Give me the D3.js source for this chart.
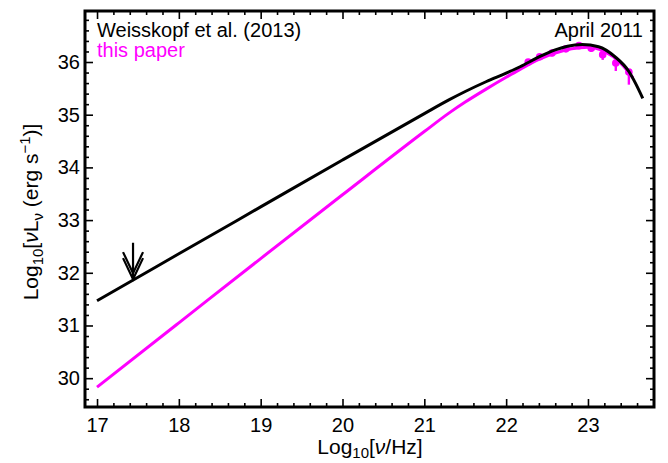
<!DOCTYPE html>
<html><head><meta charset="utf-8">
<script src="https://cdn.jsdelivr.net/npm/d3@7/dist/d3.min.js"></script>
<style>body{margin:0;background:#fff}svg{display:block}text{font-family:"Liberation Sans",Arial,sans-serif}</style>
</head><body>
<script>
// Weisskopf et al. (2013) model curve
const blackX = [17, 18, 19, 20, 21, 21.3, 21.5, 21.76, 22.0, 22.17, 22.42, 22.6, 22.75, 22.93, 23.13, 23.33, 23.5, 23.58, 23.67];
const blackY = [31.47, 32.36, 33.25, 34.14, 35.02, 35.28, 35.44, 35.63, 35.79, 35.91, 36.11, 36.23, 36.30, 36.33, 36.29, 36.10, 35.82, 35.60, 35.31];
// this paper model curve
const magX = [17, 18, 19, 20, 21, 21.3, 21.5, 21.76, 22.0, 22.17, 22.4, 22.6, 22.8, 23.0, 23.2, 23.4, 23.55];
const magY = [29.83, 31.05, 32.27, 33.48, 34.68, 35.03, 35.24, 35.49, 35.71, 35.86, 36.05, 36.17, 36.25, 36.28, 36.20, 35.98, 35.70];
// data points (this paper)
const ptX = [22.27, 22.41, 22.56, 22.73, 22.89, 23.04, 23.18, 23.34, 23.50];
const ptY = [36.00, 36.10, 36.17, 36.25, 36.31, 36.26, 36.14, 35.98, 35.81];
const ptErrLo = [0.06, 0.06, 0.06, 0.06, 0.06, 0.07, 0.10, 0.15, 0.24];
const ptErrHi = [0.04, 0.04, 0.04, 0.04, 0.04, 0.04, 0.04, 0.05, 0.05];
// upper limit arrow
const arrowX = 17.44, arrowTop = 32.57, arrowTip = 31.88;
const xTicks = [17, 18, 19, 20, 21, 22, 23];
const yTicks = [30, 31, 32, 33, 34, 35, 36];
const legendLabels = ["Weisskopf et al. (2013)", "this paper"];
const epochLabel = "April 2011";

const W = 668, H = 463;
const L = 85, R = 654, T = 11, B = 407;
const svg = d3.select("body").append("svg").attr("width", W).attr("height", H);
const x = d3.scaleLinear().domain([16.853, 23.807]).range([L, R]);
const y = d3.scaleLinear().domain([29.453, 36.968]).range([B, T]);

const minorX = d3.range(16.8, 23.81, 0.2).map(v => +v.toFixed(1)).filter(v => v >= 16.853 && v <= 23.807 && Math.abs(v - Math.round(v)) > 1e-6);
const minorY = d3.range(29.4, 36.97, 0.2).map(v => +v.toFixed(1)).filter(v => v >= 29.453 && v <= 36.968 && Math.abs(v - Math.round(v)) > 1e-6);

function axisDraw(gen, tx, ty, vals, size, labels) {
  const g = svg.append("g").attr("transform", `translate(${tx},${ty})`)
    .call(gen.tickValues(vals).tickSizeInner(size).tickSizeOuter(0).tickFormat(labels ? d3.format("d") : ""));
  g.select(".domain").remove();
  g.selectAll(".tick line").attr("stroke", "#000").attr("stroke-width", 1.6);
  g.selectAll("text").attr("font-size", 20).attr("fill", "#000");
  return g;
}
// bottom
const gb = axisDraw(d3.axisBottom(x), 0, B, xTicks, -8, true);
gb.selectAll("text").attr("y", 11).attr("dy", "0.71em");
axisDraw(d3.axisBottom(x), 0, B, minorX, -4, false);
// top
axisDraw(d3.axisTop(x), 0, T, xTicks, -8, false);
axisDraw(d3.axisTop(x), 0, T, minorX, -4, false);
// left
const gl = axisDraw(d3.axisLeft(y), L, 0, yTicks, -8, true);
gl.selectAll("text").attr("x", -5);
axisDraw(d3.axisLeft(y), L, 0, minorY, -4, false);
// right
axisDraw(d3.axisRight(y), R, 0, yTicks, -8, false);
axisDraw(d3.axisRight(y), R, 0, minorY, -4, false);

svg.append("rect").attr("x", L).attr("y", T).attr("width", R - L).attr("height", B - T)
  .attr("fill", "none").attr("stroke", "#000").attr("stroke-width", 3);

svg.append("clipPath").attr("id", "c").append("rect").attr("x", L).attr("y", T).attr("width", R - L).attr("height", B - T);
const plot = svg.append("g").attr("clip-path", "url(#c)");

const line = d3.line().x(d => x(d[0])).y(d => y(d[1])).curve(d3.curveMonotoneX);

// error bars and points
plot.append("g").selectAll("line").data(ptX).join("line")
  .attr("x1", (d) => x(d)).attr("x2", d => x(d))
  .attr("y1", (d, i) => y(ptY[i] + ptErrHi[i])).attr("y2", (d, i) => y(ptY[i] - ptErrLo[i]))
  .attr("stroke", "#ff00ff").attr("stroke-width", 2.4);
plot.append("g").selectAll("circle").data(ptX).join("circle")
  .attr("cx", d => x(d)).attr("cy", (d, i) => y(ptY[i])).attr("r", 3.8).attr("fill", "#ff00ff");

plot.append("path").datum(magX.map((v, i) => [v, magY[i]])).attr("d", line)
  .attr("fill", "none").attr("stroke", "#ff00ff").attr("stroke-width", 3);
plot.append("path").datum(blackX.map((v, i) => [v, blackY[i]])).attr("d", line)
  .attr("fill", "none").attr("stroke", "#000").attr("stroke-width", 3);

// arrow
const ax = x(arrowX), aTip = y(arrowTip), aTop = y(arrowTop);
const ag = plot.append("g").attr("stroke", "#000").attr("stroke-width", 2.2).attr("fill", "none");
ag.append("line").attr("x1", ax).attr("x2", ax).attr("y1", aTop).attr("y2", aTip);
[0, -6].forEach(off => {
  ag.append("path").attr("d", `M${ax - 10},${aTip + off - 21} L${ax},${aTip + off} L${ax + 10},${aTip + off - 21}`);
});

// legend
svg.append("text").attr("x", 97).attr("y", 37).attr("font-size", 20).attr("fill", "#000").text(legendLabels[0]);
svg.append("text").attr("x", 97).attr("y", 57).attr("font-size", 20).attr("fill", "#ff00ff").text(legendLabels[1]);
svg.append("text").attr("x", 643).attr("y", 37).attr("font-size", 20).attr("text-anchor", "end").attr("fill", "#000").text(epochLabel);

// x title
const xt = svg.append("text").attr("x", 370).attr("y", 454).attr("font-size", 21).attr("text-anchor", "middle");
xt.append("tspan").text("Log");
xt.append("tspan").attr("font-size", 15).attr("dy", 4).text("10");
xt.append("tspan").attr("dy", -4).text("[");
xt.append("tspan").attr("font-style", "italic").text("ν");
xt.append("tspan").text("/Hz]");

// y title
const yt = svg.append("text").attr("transform", `translate(38,212) rotate(-90)`).attr("font-size", 21).attr("text-anchor", "middle");
yt.append("tspan").text("Log");
yt.append("tspan").attr("font-size", 15).attr("dy", 5).text("10");
yt.append("tspan").attr("dy", -5).text("[");
yt.append("tspan").attr("font-style", "italic").text("ν");
yt.append("tspan").text("L");
yt.append("tspan").attr("font-size", 15).attr("dy", 5).text("ν");
yt.append("tspan").attr("dy", -5).text(" (erg s");
yt.append("tspan").attr("font-size", 15).attr("dy", -8).text("−1");
yt.append("tspan").attr("dy", 8).text(")]");
</script>
</body></html>
